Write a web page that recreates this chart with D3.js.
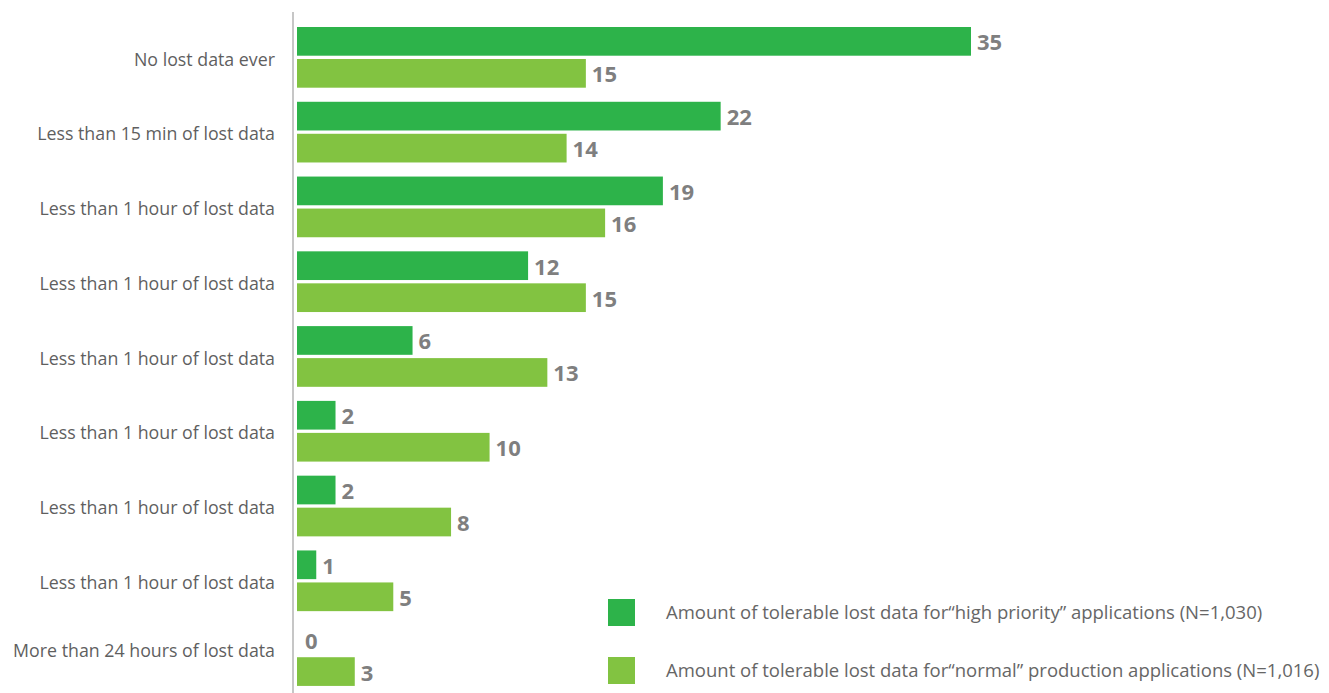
<!DOCTYPE html>
<html>
<head>
<meta charset="utf-8">
<script src="https://cdn.jsdelivr.net/npm/d3@7"></script>
<style>
  html, body { margin: 0; padding: 0; background: #fff; }
  svg { display: block; }
</style>
</head>
<body>
<svg id="chart" width="1329" height="693"></svg>
<script>
const categories = [
  "No lost data ever",
  "Less than 15 min of lost data",
  "Less than 1 hour of lost data",
  "Less than 1 hour of lost data",
  "Less than 1 hour of lost data",
  "Less than 1 hour of lost data",
  "Less than 1 hour of lost data",
  "Less than 1 hour of lost data",
  "More than 24 hours of lost data"
];
const highPriority = [35, 22, 19, 12, 6, 2, 2, 1, 0];
const normalProduction = [15, 14, 16, 15, 13, 10, 8, 5, 3];
const seriesNames = [
  "Amount of tolerable lost data for\u201Chigh priority\u201D applications (N=1,030)",
  "Amount of tolerable lost data for\u201Cnormal\u201D production applications (N=1,016)"
];
const seriesColors = ["#2db34a", "#82c341"];

const svg = d3.select("#chart");
const x0 = 297;
const x = d3.scaleLinear().domain([0, 35]).range([x0, 971]);
const y = d3.scaleBand().domain(d3.range(categories.length)).range([24, 697]).paddingInner(0).paddingOuter(0);
const sub = d3.scaleBand().domain([0, 1]).range([3, 63.7]).paddingInner(0.103).paddingOuter(0);

// axis line
svg.append("line")
  .attr("x1", 293).attr("x2", 293).attr("y1", 12).attr("y2", 693)
  .attr("stroke", "#b3b3b3").attr("stroke-width", 1.5);

const font = "'Open Sans', 'Noto Sans', sans-serif";

const g = svg.append("g");
const groups = g.selectAll("g.grp").data(categories).join("g")
  .attr("class", "grp")
  .attr("transform", (d, i) => `translate(0,${y(i)})`);

groups.each(function(d, i) {
  const gg = d3.select(this);
  const vals = [highPriority[i], normalProduction[i]];
  vals.forEach((v, s) => {
    gg.append("rect")
      .attr("x", x(0))
      .attr("y", sub(s))
      .attr("width", x(v) - x(0))
      .attr("height", sub.bandwidth())
      .attr("fill", seriesColors[s]);
    gg.append("text")
      .attr("x", v === 0 ? x(0) + 8 : x(v) + 6)
      .attr("y", sub(s) + sub.bandwidth() / 2 + 9)
      .attr("font-family", font)
      .attr("font-weight", "bold")
      .attr("font-size", 22)
      .attr("fill", "#7f7f7f")
      .text(v);
  });
  gg.append("text")
    .attr("x", 275)
    .attr("y", i === categories.length - 1 ? 35 : 41.5)
    .attr("text-anchor", "end")
    .attr("font-family", font)
    .attr("font-size", 17.8)
    .attr("fill", "#5f5f5f")
    .text(d);
});

// legend
const legendY = [599, 657];
seriesNames.forEach((name, s) => {
  svg.append("rect")
    .attr("x", 608).attr("y", legendY[s])
    .attr("width", 27).attr("height", 27)
    .attr("fill", seriesColors[s]);
  svg.append("text")
    .attr("x", 666).attr("y", legendY[s] + 20)
    .attr("font-family", font)
    .attr("font-size", 18.5)
    .attr("fill", "#666666")
    .text(name);
});
</script>
</body>
</html>
